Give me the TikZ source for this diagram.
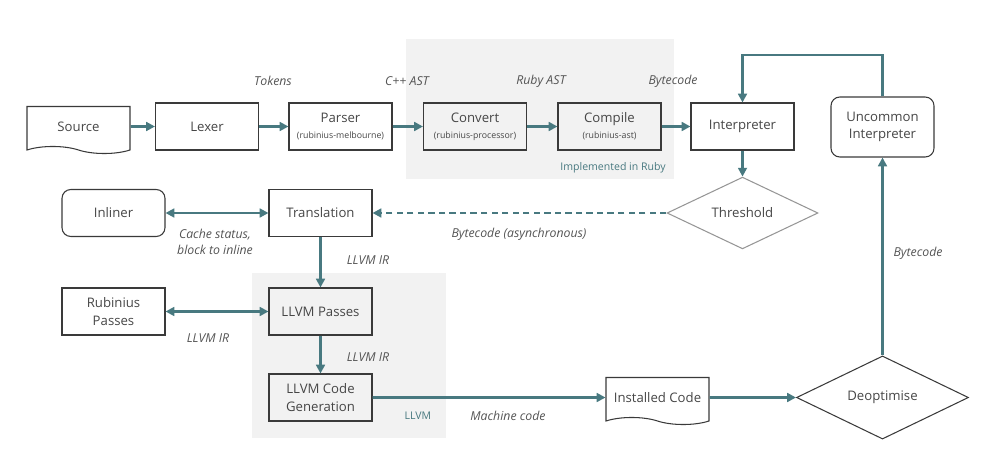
\documentclass[tikz,border=0pt]{standalone}
\usepackage{fontspec}
\setmainfont{Open Sans}
\usetikzlibrary{shapes.geometric,shapes.symbols,arrows.meta}

\definecolor{flowTeal}{RGB}{72,121,128}
\definecolor{boxLine}{RGB}{58,58,58}
\definecolor{boxText}{RGB}{70,70,70}
\definecolor{lblText}{RGB}{84,84,84}
\definecolor{areaGrey}{RGB}{242,242,242}
\definecolor{threshLine}{RGB}{150,150,150}

\newcommand{\subTxt}[1]{{\fontsize{5}{6}\selectfont #1}}

\begin{document}
\begin{tikzpicture}[x=0.02cm,y=-0.02cm,
	stage/.style={draw=boxLine,line width=0.6pt,text=boxText,align=center,inner sep=1pt,
		minimum width=2.06cm,minimum height=0.94cm,font=\fontsize{7.5}{10}\selectfont},
	roundStage/.style={stage,rounded corners=5pt},
	docStage/.style={stage,tape,tape bend top=none,tape bend bottom=out and in,tape bend height=4pt},
	decision/.style={diamond,draw=boxLine,line width=0.6pt,text=boxText,inner sep=0pt,
		font=\fontsize{7.5}{10}\selectfont},
	lbl/.style={text=lblText,align=center,font=\fontsize{7}{9.5}\selectfont\itshape},
	area/.style={fill=areaGrey,draw=none},
	areaLbl/.style={text=flowTeal,font=\fontsize{6}{8}\selectfont},
	flow/.style={-{Triangle[length=5pt,width=5pt]},line width=1.5pt,draw=flowTeal},
	biflow/.style={{Triangle[length=5pt,width=5pt]}-{Triangle[length=5pt,width=5pt]},line width=1.3pt,draw=flowTeal}
]
	\useasboundingbox (0,0) rectangle (1000,466);

	% shaded groups
	\fill[area] (406,39) rectangle (674,179);
	\fill[area] (252,273) rectangle (446,438);
	\node[areaLbl] (lblRuby) at (613,168) {Implemented in Ruby};
	\node[areaLbl] (lblLLVM) at (418,416) {LLVM};

	% front end
	\node[docStage] (Source) at (78.5,126.5) {Source};
	\node[stage] (Lexer) at (207,126.5) {Lexer};
	\node[stage] (Parser) at (340.5,126.5) {Parser\\[-1pt]\subTxt{(rubinius-melbourne)}};
	\node[stage] (Convert) at (475,126.5) {Convert\\[-1pt]\subTxt{(rubinius-processor)}};
	\node[stage] (Compile) at (609.5,126.5) {Compile\\[-1pt]\subTxt{(rubinius-ast)}};
	\node[stage] (Interp) at (742.5,126.5) {Interpreter};
	\node[roundStage,minimum height=1.2cm] (Uncommon) at (882.5,127) {Uncommon\\Interpreter};

	\node[lbl] (lblTokens) at (273,81) {Tokens};
	\node[lbl] (lblCppAst) at (407,81) {C++ AST};
	\node[lbl] (lblRubyAst) at (541,81) {Ruby AST};
	\node[lbl] (lblBytecode) at (673,81) {Bytecode};

	\draw[flow] (Source) -- (Lexer);
	\draw[flow] (Lexer) -- (Parser);
	\draw[flow] (Parser) -- (Convert);
	\draw[flow] (Convert) -- (Compile);
	\draw[flow] (Compile) -- (Interp);

	\coordinate (loopTop) at (882.5,55);
	\draw[flow] (Uncommon.north) -- (loopTop) -| (Interp.north);

	% JIT
	\node[decision,draw=threshLine,minimum width=3.02cm,minimum height=1.2cm] (Threshold) at (742.5,213) {Threshold};
	\draw[flow] (Interp) -- (Threshold);

	\node[stage] (Translation) at (320.5,213) {Translation};
	\node[roundStage] (Inliner) at (113.5,213) {Inliner};
	\draw[flow,dash pattern=on 3.6pt off 2.4pt] (Threshold.west) -- (Translation.east);
	\node[lbl] (lblAsync) at (519,234) {Bytecode (asynchronous)};
	\draw[biflow] (Inliner) -- (Translation);
	\node[lbl] (lblCache) at (215,242) {Cache status,\\block to inline};

	\node[stage] (LLVMPasses) at (320.5,311.5) {LLVM Passes};
	\node[stage] (RbxPasses) at (113.5,311.5) {Rubinius\\Passes};
	\node[stage] (CodeGen) at (320.5,397.5) {LLVM Code\\Generation};

	\draw[flow] (Translation) -- (LLVMPasses);
	\node[lbl] (lblIrA) at (368,260) {LLVM IR};
	\draw[biflow] (RbxPasses) -- (LLVMPasses);
	\node[lbl] (lblIrB) at (208,338) {LLVM IR};
	\draw[flow] (LLVMPasses) -- (CodeGen);
	\node[lbl] (lblIrC) at (368,357) {LLVM IR};

	% back end
	\node[docStage] (Installed) at (657.5,397.5) {Installed Code};
	\node[decision,minimum width=3.44cm,minimum height=1.18cm] (Deopt) at (882.5,397.5) {Deoptimise};

	\draw[flow] (CodeGen) -- (Installed);
	\node[lbl] (lblMachine) at (508,416) {Machine code};
	\draw[flow] (Installed) -- (Deopt);
	\draw[flow] (Deopt) -- (Uncommon);
	\node[lbl] (lblDeoptBc) at (918,253) {Bytecode};

\end{tikzpicture}
\end{document}
